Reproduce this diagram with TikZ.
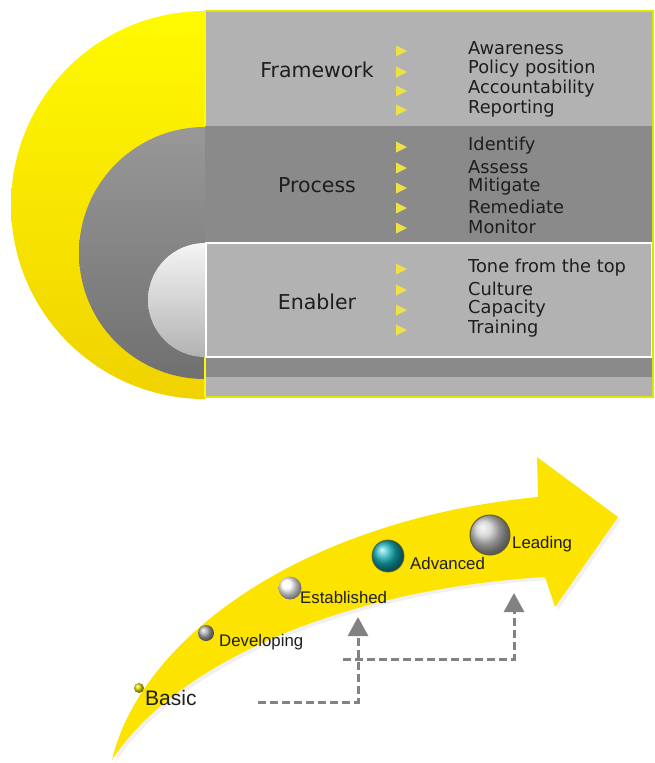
\documentclass[tikz,border=0pt]{standalone}
\usepackage{fontspec}
\setmainfont{DejaVu Sans}
\newfontfamily\arialfont{Liberation Sans}
\usetikzlibrary{arrows.meta,shapes.geometric}
\definecolor{ylwT}{RGB}{255,250,0}
\definecolor{ylwB}{RGB}{240,210,0}
\definecolor{bandL}{RGB}{178,178,178}
\definecolor{bandD}{RGB}{138,138,138}
\definecolor{discT}{RGB}{152,152,152}
\definecolor{discB}{RGB}{112,112,112}
\definecolor{txt}{RGB}{30,30,30}
\definecolor{bul}{RGB}{236,226,70}
\definecolor{arrowY}{RGB}{252,228,0}
\definecolor{dashG}{RGB}{130,130,130}
\definecolor{teal2}{RGB}{20,175,185}
\begin{document}
\begin{tikzpicture}[x=1pt,y=-1pt,
  lbl/.style={font=\fontsize{20.5}{22}\selectfont, text=txt},
  item/.style={font=\fontsize{17.8}{20}\selectfont, text=txt, anchor=west, inner sep=0pt},
  stage/.style={font=\arialfont\fontsize{16.8}{18}\selectfont, text=txt, anchor=west, inner sep=0pt},
  sphere/.style={circle, inner sep=0pt},
  dashline/.style={dashG, line width=3pt, dash pattern=on 8pt off 4pt, -{Triangle[width=20pt,length=19pt]}}
]
\useasboundingbox (0,0) rectangle (654,763);
% ---- top panel: half discs ----
\shade[top color=ylwT, bottom color=ylwB] (205,11) arc[start angle=90,end angle=270,radius=194pt] -- cycle;
\shade[top color=discT, bottom color=discB] (205,127) arc[start angle=90,end angle=270,radius=126pt] -- cycle;
\shade[top color=white!96!black, bottom color=white!70!black] (205,243) arc[start angle=90,end angle=270,radius=57pt] -- cycle;
% ---- bands ----
\fill[bandL] (205,11) rectangle (653,126);
\fill[bandD] (205,126) rectangle (653,242);
\fill[bandL] (205,242) rectangle (653,357);
\fill[bandD] (205,357) rectangle (653,377);
\fill[bandL] (205,377) rectangle (653,397);
\draw[white, line width=1.6pt] (206,243) rectangle (652,357);
\draw[ylwT!90!black, line width=2.2pt] (205,11) -- (653,11) -- (653,397) -- (205,397);
\draw[ylwT, line width=2.2pt] (205,11) -- (205,126) (205,357) -- (205,397);
% ---- labels ----
\node[lbl] (fw) at (317,70) {Framework};
\node[lbl] (pr) at (317,185) {Process};
\node[lbl] (en) at (317,302) {Enabler};
\foreach \y in {51,72,91,110,147,168,188,208,228,269,290,310,330}
  \fill[bul] (396,\y-5.5) -- (407,\y) -- (396,\y+5.5) -- cycle;
\node[item] (i1) at (468,48) {Awareness};
\node[item] (i2) at (468,69) {Policy position};
\node[item] (i3) at (468,89) {Accountability};
\node[item] (i4) at (468,109) {Reporting};
\node[item] (i5) at (468,146) {Identify};
\node[item] (i6) at (468,167) {Assess};
\node[item] (i7) at (468,187) {Mitigate};
\node[item] (i8) at (468,207) {Remediate};
\node[item] (i9) at (468,227) {Monitor};
\node[item] (i10) at (468,268) {Tone from the top};
\node[item] (i11) at (468,289) {Culture};
\node[item] (i12) at (468,309) {Capacity};
\node[item] (i13) at (468,329) {Training};
% ---- bottom: curved arrow ----
\fill[gray!12] (115,763) .. controls (143,643) and (303,523) .. (541,500) -- (540,460) -- (621,520) -- (558,610) -- (548,580) .. controls (333,593) and (173,673) .. (115,763) -- cycle;
\fill[arrowY] (112,760) .. controls (140,640) and (300,520) .. (538,497) -- (537,457) -- (618,517) -- (555,607) -- (545,577) .. controls (330,590) and (170,670) .. (112,760) -- cycle;
% ---- stage spheres ----
\node[sphere, ball color=yellow!75!olive, minimum size=10pt] (s1) at (139,688) {};
\node[sphere, ball color=gray!65, minimum size=16pt] (s2) at (206,633) {};
\node[sphere, ball color=white, minimum size=23pt] (s3) at (290,588) {};
\node[sphere, ball color=teal2, draw=olive!60!black, line width=0.8pt, minimum size=32pt] (s4) at (388,556) {};
\node[sphere, ball color=gray!40, draw=olive!60!black, line width=1pt, minimum size=40pt] (s5) at (490,535) {};
\node[stage, font=\arialfont\fontsize{21}{23}\selectfont] (t1) at (145,698) {Basic};
\node[stage] (t2) at (219,642) {Developing};
\node[stage] (t3) at (300,597) {Established};
\node[stage] (t4) at (410,563) {Advanced};
\node[stage] (t5) at (512,544) {Leading};
% ---- dashed arrows ----
\coordinate (d1s) at (258,702);
\coordinate (d1t) at (358,617);
\coordinate (d2s) at (343,659);
\coordinate (d2t) at (514,593);
\draw[dashline] (d1s) -| (d1t);
\draw[dashline] (d2s) -| (d2t);
\end{tikzpicture}
\end{document}
